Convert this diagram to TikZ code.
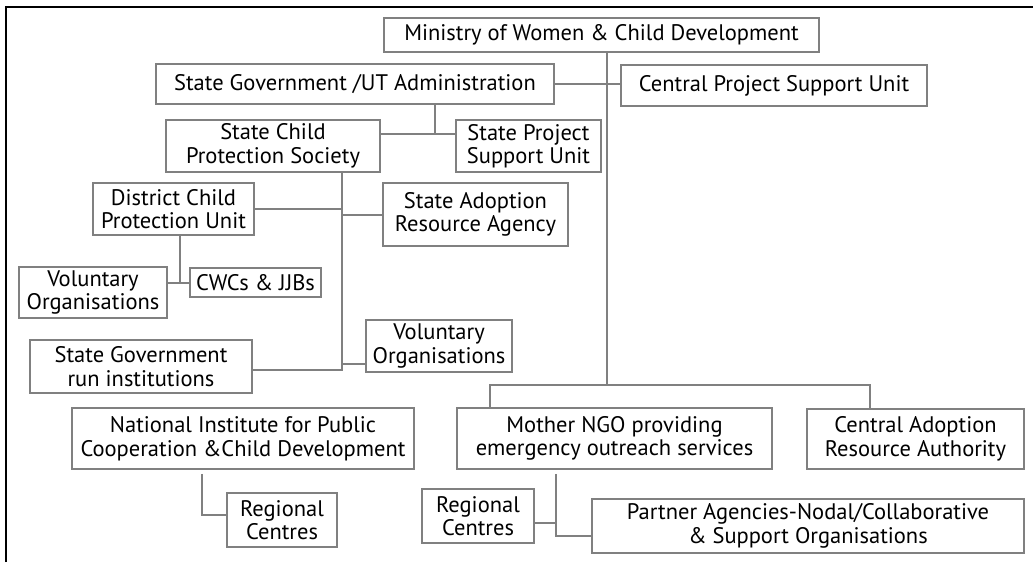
\documentclass[tikz,border=0pt]{standalone}
\usepackage{fontspec}
\setmainfont{PT Sans}
\usetikzlibrary{positioning}
\definecolor{boxgray}{HTML}{808080}
\tikzstyle{unit} = [rectangle, draw=boxgray, line width=1.6pt, inner sep=1pt, align=center, text centered, font=\fontsize{22.5}{23.5}\selectfont]
\tikzstyle{link} = [draw=boxgray, line width=1.6pt]
\tikzstyle{frame} = [draw=black, line width=2.4pt]

\begin{document}
\begin{tikzpicture}[x=1pt, y=-1pt]
    \useasboundingbox (0,0) rectangle (1033,562);
    \draw [frame] (6,562) -- (6,7) -- (1033,7);

    \node (ministry) [unit, minimum width=435pt, minimum height=34pt] at (601.5,35) {Ministry of Women \& Child Development};
    \node (stategov) [unit, minimum width=398pt, minimum height=40pt] at (355,84) {State Government /UT Administration};
    \node (cpsu) [unit, minimum width=306pt, minimum height=41pt] at (774,85.5) {Central Project Support Unit};
    \node (scps) [unit, minimum width=214pt, minimum height=52pt] at (273,146) {State Child \\ Protection Society};
    \node (spsu) [unit, minimum width=145pt, minimum height=52pt] at (528.5,146) {State Project \\ Support Unit};
    \node (dcpu) [unit, minimum width=161pt, minimum height=52pt] at (173.5,209) {District Child \\ Protection Unit};
    \node (sara) [unit, minimum width=185pt, minimum height=63pt] at (475.5,214.5) {State Adoption \\ Resource Agency};
    \node (vol_org1) [unit, minimum width=148pt, minimum height=51pt] at (93,292.5) {Voluntary \\ Organisations};
    \node (cwcs) [unit, minimum width=131pt, minimum height=29pt] at (255.5,282.5) {CWCs \& JJBs};
    \node (sgri) [unit, minimum width=222pt, minimum height=53pt] at (141,366.5) {State Government \\ run institutions};
    \node (vol_org2) [unit, minimum width=146pt, minimum height=52pt] at (439,346) {Voluntary \\ Organisations};
    \node (nipccd) [unit, minimum width=342pt, minimum height=61pt] at (243,438.5) {National Institute for Public \\ Cooperation \&Child Development};
    \node (reg_c1) [unit, minimum width=110pt, minimum height=54pt] at (282,520) {Regional \\ Centres};
    \node (mngo) [unit, minimum width=315pt, minimum height=61pt] at (614.5,438.5) {Mother NGO providing \\ emergency outreach services};
    \node (cara) [unit, minimum width=217pt, minimum height=60pt] at (915.5,439) {Central Adoption \\ Resource Authority};
    \node (reg_c2) [unit, minimum width=112pt, minimum height=54pt] at (478,516) {Regional \\ Centres};
    \node (partner) [unit, minimum width=432pt, minimum height=54pt] at (808,526) {Partner Agencies-Nodal/Collaborative \\ \& Support Organisations};

    % junction points
    \coordinate (trunk) at (607,385);
    \coordinate (bus_l) at (490,385);
    \coordinate (bus_r) at (870,385);
    \coordinate (sg_j) at (435,134);
    \coordinate (spine) at (342,370);
    \coordinate (sa_j) at (342,215);
    \coordinate (dc_j) at (180,283);
    \coordinate (mn_j) at (556,536);
    \coordinate (ni_j) at (202,515);

    \draw [link] (ministry.south -| trunk) -- (trunk);
    \draw [link] (stategov.east) -- (stategov.east -| cpsu.west);
    \draw [link] (stategov.south -| sg_j) -- (sg_j);
    \draw [link] (scps.east |- sg_j) -- (spsu.west |- sg_j);
    \draw [link] (scps.south -| spine) -- (spine) -- (sgri.east |- spine);
    \draw [link] (dcpu.east) -- (dcpu.east -| spine);
    \draw [link] (sa_j) -- (sara.west |- sa_j);
    \draw [link] ([yshift=9pt]vol_org2.south west -| spine) -- ([yshift=9pt]vol_org2.south west);
    \draw [link] (dcpu.south -| dc_j) -- (dc_j);
    \draw [link] (vol_org1.east |- dc_j) -- (cwcs.west |- dc_j);
    \draw [link] (mngo.north -| bus_l) -- (bus_l) -- (bus_r) -- (cara.north -| bus_r);
    \draw [link] ([yshift=-4pt]mngo.south -| mn_j) -- (mn_j) -- ([yshift=-10pt]partner.west);
    \draw [link] ([yshift=-7pt]reg_c2.east) -- ([yshift=-7pt]reg_c2.east -| mn_j);
    \draw [link] ([yshift=-4pt]nipccd.south -| ni_j) -- (ni_j) -- (reg_c1.west |- ni_j);
\end{tikzpicture}
\end{document}
